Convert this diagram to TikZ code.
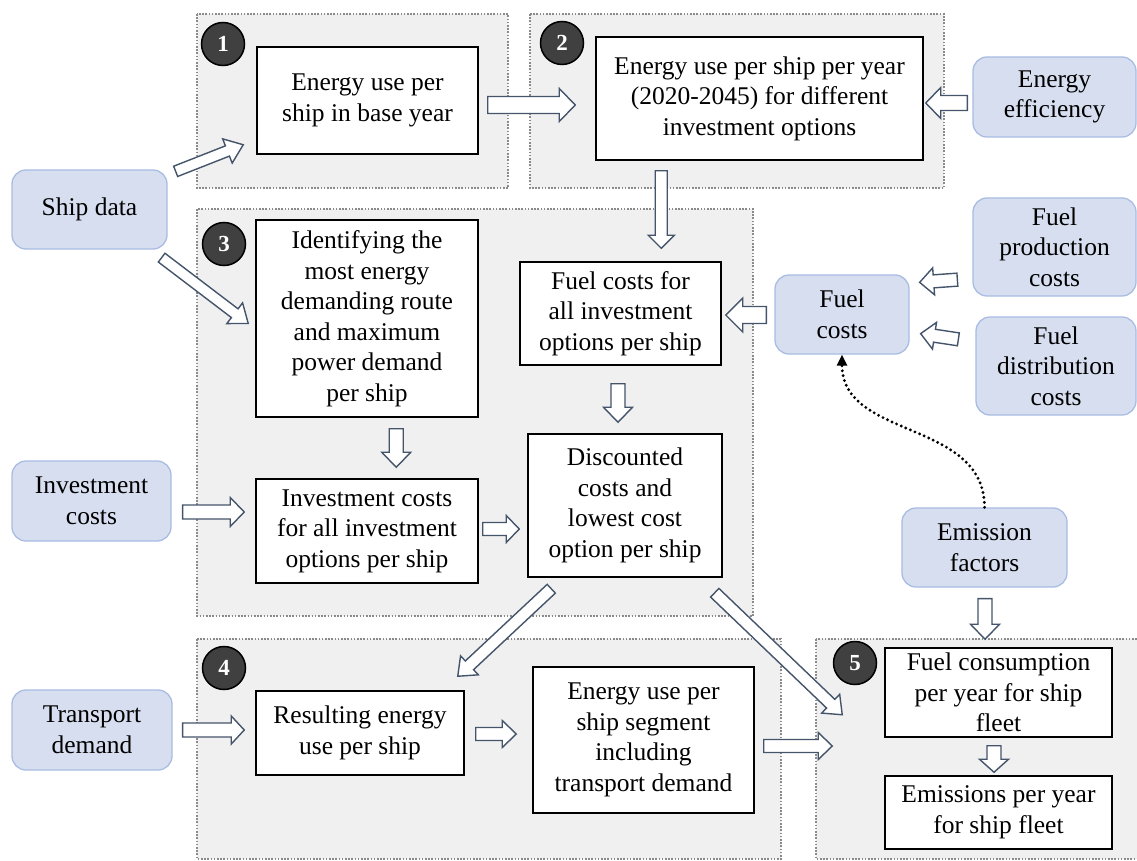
\documentclass[tikz,border=0pt]{standalone}
\usepackage{fontspec}
\setmainfont{Liberation Serif}
\usetikzlibrary{calc,arrows.meta}
\definecolor{panelgray}{HTML}{F0F0F0}
\definecolor{dotgray}{HTML}{8A8A8A}
\definecolor{bluefill}{HTML}{D7DEF0}
\definecolor{blueline}{HTML}{A9BCE2}
\definecolor{arrline}{HTML}{44546A}
\definecolor{circfill}{HTML}{404040}
\tikzset{
  panel/.style={fill=panelgray, draw=dotgray, line width=1.6pt, dash pattern=on 1.6pt off 1.6pt},
  wbox/.style={draw=black, line width=1.5pt, fill=white, align=center, inner sep=0pt},
  bbox/.style={draw=blueline, line width=1.3pt, fill=bluefill, rounded corners=14pt, align=center, inner sep=0pt},
  numcirc/.style={circle, draw=black, line width=1.5pt, fill=circfill, minimum size=43pt, inner sep=0pt, text=white, font=\bfseries\fontsize{23}{23}\selectfont},
  fatarrow/.style={draw=arrline, fill=white, line width=1.4pt, line join=miter},
  dotcurve/.style={line width=3.2pt, line cap=round, dash pattern=on 0pt off 5pt, -{Triangle[length=11pt,width=10pt]}}
}
% \fatarr{shaft half width}{head half width}{head length}{from}{to}
\newcommand\fatarr[5]{%
  \coordinate (faA) at #4;
  \coordinate (faB) at #5;
  \coordinate (faS) at ($(faB)!#3pt!(faA)$);
  \draw[fatarrow] ($(faA)!#1pt!90:(faB)$) -- ($(faS)!#1pt!90:(faB)$) -- ($(faS)!#2pt!90:(faB)$) -- (faB)
     -- ($(faS)!#2pt!-90:(faB)$) -- ($(faS)!#1pt!-90:(faB)$) -- ($(faA)!#1pt!-90:(faB)$) -- cycle;
}
\begin{document}
\begin{tikzpicture}[x=1pt,y=-1pt,font=\fontsize{25.5}{30.5}\selectfont]
\useasboundingbox (0,0) rectangle (1137,861);
% panels
\draw[panel] (197,14) rectangle (508,188);
\draw[panel] (530,14) rectangle (944,188);
\draw[panel] (197,209) rectangle (753,616);
\draw[panel] (197,639) rectangle (781,859);
\draw[panel] (816,639) rectangle (1150,859);
% step numbers
\node[numcirc] (c1) at (223,44) {1};
\node[numcirc] (c2) at (562,43) {2};
\node[numcirc] (c3) at (224,244) {3};
\node[numcirc] (c4) at (224,668) {4};
\node[numcirc] (c5) at (855,663) {5};
% process boxes
\node[wbox, minimum width=221, minimum height=107] (box1) at (367.5,100.5) {Energy use per\\ship in base year};
\node[wbox, minimum width=327, minimum height=123] (box2) at (759.5,98.5) {Energy use per ship per year\\(2020-2045) for different\\investment options};
\node[wbox, minimum width=222, minimum height=197] (box3a) at (367,318.5) {Identifying the\\most energy\\demanding route\\and maximum\\power demand\\per ship};
\node[wbox, minimum width=222, minimum height=104] (box3b) at (367,531) {Investment costs\\for all investment\\options per ship};
\node[wbox, minimum width=201, minimum height=103] (fuelfor) at (620.5,313.5) {Fuel costs for\\all investment\\options per ship};
\node[wbox, minimum width=194, minimum height=143] (disc) at (625,505.5) {Discounted\\costs and\\lowest cost\\option per ship};
\node[wbox, minimum width=208, minimum height=84] (resulting) at (360,733) {Resulting energy\\use per ship};
\node[wbox, minimum width=221, minimum height=146] (segment) at (643.5,740) {Energy use per\\ship segment\\including\\transport demand};
\node[wbox, minimum width=227, minimum height=89] (fuelcons) at (998.5,692.5) {Fuel consumption\\per year for ship\\fleet};
\node[wbox, minimum width=227, minimum height=73] (emissions) at (998.5,812.5) {Emissions per year\\for ship fleet};
% input boxes
\node[bbox, minimum width=155, minimum height=79] (ship) at (89.5,209.5) {Ship data};
\node[bbox, minimum width=159, minimum height=80] (invcost) at (91.5,501) {Investment\\costs};
\node[bbox, minimum width=160, minimum height=80] (transport) at (92,730) {Transport\\demand};
\node[bbox, minimum width=163, minimum height=80] (eff) at (1054.5,97) {Energy\\efficiency};
\node[bbox, minimum width=163, minimum height=98] (fuelprod) at (1054.5,247) {Fuel\\production\\costs};
\node[bbox, minimum width=160, minimum height=98] (fueldist) at (1056,366) {Fuel\\distribution\\costs};
\node[bbox, minimum width=134, minimum height=79] (fuelcosts) at (842,314.5) {Fuel\\costs};
\node[bbox, minimum width=165, minimum height=79] (emis) at (984.5,547.5) {Emission\\factors};
% helper coordinates for straight arrows
\coordinate (t3) at ($(box1.east)+(9,4.5)$);
\coordinate (t10) at ($(invcost.east)+(11,11)$);
\coordinate (t17) at ($(segment.east)+(9,6)$);
% connectors
\fatarr{5.5}{13}{17}{($(ship.north east)+(8,2)$)}{($(box1.south west)+(-13,-10)$)}
\fatarr{5.5}{13}{17}{($(ship.south east)+(-6,8)$)}{($(box3a.west)+(-7,5)$)}
\fatarr{8.5}{16.5}{16}{(t3)}{($(t3 -| box2.west)+(-20,0)$)}
\fatarr{7.5}{15.5}{15}{($(eff.west)+(-5,6)$)}{($(box2.east)+(2,4.5)$)}
\fatarr{6}{13}{13}{($(box2.south west)+(66,10)$)}{($(fuelfor.north west)+(142,-13)$)}
\fatarr{8.5}{17}{17}{($(fuelcosts.west)+(-8,0.5)$)}{($(fuelfor.east)+(4,1.5)$)}
\fatarr{6.5}{13.5}{14}{($(fuelprod.south west)+(-15,-17)$)}{($(fuelcosts.north east)+(10,8)$)}
\fatarr{6.5}{13.5}{14}{($(fueldist.north west)+(-17,23)$)}{($(fuelcosts.south east)+(11,-21)$)}
\fatarr{7}{14.5}{15}{($(box3a.south west)+(141,11)$)}{($(box3b.north west)+(141,-11)$)}
\fatarr{7}{14.5}{14}{(t10)}{($(t10 -| box3b.west)+(-11,0)$)}
\fatarr{7}{14.5}{15}{($(fuelfor.south)+(-2.5,18)$)}{($(disc.north)+(-7,-11)$)}
\fatarr{6.5}{13.5}{13}{($(box3b.east)+(4,-2)$)}{($(disc.west)+(-8,23.5)$)}
\fatarr{6}{13}{16}{($(disc.south west)+(24,11)$)}{($(resulting.north east)+(-7,-14)$)}
\fatarr{6}{13}{16}{($(disc.south east)+(-8,15)$)}{($(fuelcons.south west)+(-42,-23)$)}
\fatarr{7}{14}{13}{($(transport.east)+(10,0)$)}{($(resulting.west)+(-11,-3)$)}
\fatarr{6.5}{13.5}{14}{($(resulting.east)+(11,1)$)}{($(segment.west)+(-16,-6)$)}
\fatarr{6.5}{13.5}{14}{(t17)}{($(t17 -| fuelcons.west)+(-52,0)$)}
\fatarr{7}{14.5}{15}{($(emis.south)+(0.5,11)$)}{($(fuelcons.north)+(-13.5,-8)$)}
\fatarr{7}{14.5}{13}{($(fuelcons.south)+(-4.5,8)$)}{($(emissions.north)+(-4.5,-3)$)}
% dotted influence
\draw[dotcurve] (emis.north) .. controls +(0,-88) and +(0,85) .. (fuelcosts.south);
\end{tikzpicture}
\end{document}
